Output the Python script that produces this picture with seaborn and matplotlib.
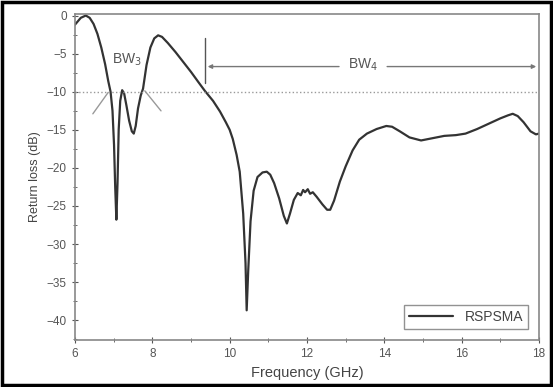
import numpy as np
import pandas as pd
import seaborn as sns
import matplotlib.pyplot as plt
from matplotlib.ticker import MultipleLocator

# return loss
freq = [6.00, 6.05, 6.15, 6.28, 6.38, 6.48, 6.58, 6.68, 6.78, 6.86, 6.92,
        6.97, 7.01, 7.04, 7.07, 7.10, 7.13, 7.17, 7.22, 7.27, 7.33, 7.40,
        7.47, 7.52, 7.57, 7.63, 7.70, 7.76, 7.85, 7.95, 8.05, 8.15, 8.25,
        8.40, 8.60, 8.80, 9.00, 9.20, 9.36, 9.57, 9.75, 9.90, 10.00, 10.08,
        10.18, 10.26, 10.35, 10.41, 10.44, 10.48, 10.54, 10.62, 10.72,
        10.85, 10.96, 11.05, 11.15, 11.28, 11.40, 11.48, 11.56, 11.66,
        11.76, 11.84, 11.90, 11.95, 12.02, 12.08, 12.15, 12.25, 12.40,
        12.52, 12.60, 12.70, 12.85, 13.00, 13.18, 13.35, 13.55, 13.80,
        14.05, 14.20, 14.40, 14.65, 14.95, 15.25, 15.55, 15.85, 16.10,
        16.40, 16.70, 17.00, 17.20, 17.32, 17.45, 17.60, 17.78, 17.92, 18.00]
rl = [-1.2, -0.9, -0.3, 0.0, -0.3, -1.1, -2.4, -4.2, -6.4, -8.6, -10.0,
      -12.5, -17.0, -22.5, -26.8, -22.0, -15.0, -11.2, -9.8, -10.2, -11.8,
      -13.8, -15.2, -15.5, -14.5, -12.2, -10.5, -9.6, -6.5, -4.2, -3.0,
      -2.6, -2.8, -3.6, -4.8, -6.1, -7.4, -8.8, -9.9, -11.2, -12.6, -14.0,
      -15.0, -16.2, -18.3, -20.5, -26.0, -32.5, -38.7, -33.5, -27.0, -23.0,
      -21.2, -20.6, -20.5, -20.9, -22.0, -24.0, -26.3, -27.3, -26.0, -24.2,
      -23.3, -23.6, -22.9, -23.2, -22.8, -23.4, -23.2, -23.8, -24.8, -25.5,
      -25.5, -24.3, -21.8, -19.8, -17.7, -16.3, -15.5, -14.9, -14.5, -14.6,
      -15.2, -16.0, -16.4, -16.1, -15.8, -15.7, -15.5, -14.9, -14.2, -13.5,
      -13.1, -12.9, -13.2, -14.0, -15.2, -15.6, -15.5]

df = pd.DataFrame({'Frequency (GHz)': freq, 'Return loss (dB)': rl})

sns.set_style('ticks')
plt.rcParams['font.family'] = ['Liberation Sans', 'DejaVu Sans']

fig = plt.figure(figsize=(5.53, 3.87), dpi=100)
ax = fig.add_axes([0.1356, 0.1214, 0.8391, 0.8424])

sns.lineplot(data=df, x='Frequency (GHz)', y='Return loss (dB)', ax=ax,
             color='#333333', linewidth=1.6, label='RSPSMA')

ax.axhline(-10, color='#999999', linestyle=':', linewidth=1.0)

ax.set_xlim(6, 18)
ax.set_ylim(-42.6, 0.2)
ax.xaxis.set_major_locator(MultipleLocator(2))
ax.xaxis.set_minor_locator(MultipleLocator(1))
ax.yaxis.set_major_locator(MultipleLocator(5))
ax.yaxis.set_minor_locator(MultipleLocator(2.5))
ax.tick_params(which='both', direction='inout', colors='#555555', labelcolor='#555555',
               labelsize=8.5)
ax.tick_params(which='major', length=5)
ax.tick_params(which='minor', length=3)
for s in ax.spines.values():
    s.set_color('#888888')
    s.set_linewidth(1.2)
ax.set_xlabel('Frequency (GHz)', fontsize=10.5, color='#444444')
ax.set_ylabel('Return loss (dB)', fontsize=9, color='#444444')

# BW3 annotation
ax.text(6.95, -5.8, 'BW$_3$', fontsize=10, color='#555555', va='center')
ax.annotate('', xy=(6.9, -9.8), xytext=(6.42, -13.2),
            arrowprops=dict(arrowstyle='-', color='#999999', lw=1.0))
ax.annotate('', xy=(7.76, -9.6), xytext=(8.27, -12.8),
            arrowprops=dict(arrowstyle='-', color='#999999', lw=1.0))

# BW4 annotation
ax.plot([9.36, 9.36], [-2.9, -8.9], color='#555555', lw=1.0)
ax.annotate('', xy=(9.36, -6.7), xytext=(12.9, -6.7),
            arrowprops=dict(arrowstyle='-|>', color='#777777', lw=1.0, mutation_scale=6))
ax.annotate('', xy=(18.0, -6.7), xytext=(14.0, -6.7),
            arrowprops=dict(arrowstyle='-|>', color='#777777', lw=1.0, mutation_scale=6))
ax.text(13.45, -6.5, 'BW$_4$', fontsize=10, color='#555555', ha='center', va='center')

leg = ax.legend(loc='lower right', fontsize=10, frameon=True, fancybox=False,
                handlelength=3.2, borderaxespad=0.8, borderpad=0.35)
leg.get_frame().set_edgecolor('#777777')
for t in leg.get_texts():
    t.set_color('#444444')

# black frame round the whole picture
fig.patches.append(plt.Rectangle((0.004, 0.004), 0.992, 0.99, transform=fig.transFigure,
                                 fill=False, edgecolor='black', linewidth=2.5))

fig.savefig('out.png', dpi=100)
